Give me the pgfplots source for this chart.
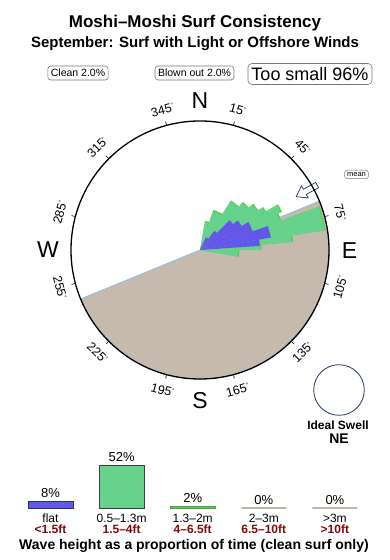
\documentclass[border=0pt]{standalone}
\usepackage{pgfplots}
\pgfplotsset{compat=1.18}
\usepackage{fontspec}
\setmainfont{Liberation Sans}
\newcommand{\fs}[1]{\fontsize{#1}{#1}\selectfont}
\newcommand{\dg}{{\fs{6}\raisebox{4pt}{\textdegree}}}
\definecolor{purp}{RGB}{100,85,235}
\definecolor{grn}{RGB}{102,210,140}
\definecolor{brgrn}{RGB}{90,205,80}
\definecolor{landc}{RGB}{197,186,173}
\definecolor{coast}{RGB}{150,190,230}
\definecolor{dred}{RGB}{130,10,10}
\definecolor{graya}{RGB}{185,180,165}
\definecolor{grayb}{RGB}{200,178,172}
\definecolor{boxg}{RGB}{120,120,120}
\definecolor{navyo}{RGB}{35,55,95}
% wedge: math angle 1, math angle 2, radius (px), colour
\newcommand{\wdg}[4]{\addplot[fill=#4, draw=none, data cs=polar] coordinates {(0,0) (#1,#3) (#2,#3)} -- cycle;}
\newcommand{\tk}[1]{\draw[line width=0.6pt] (axis cs:0,0) ++(#1:129pt) -- ++(#1:4pt);}
\begin{document}
\begin{tikzpicture}
\useasboundingbox (0,0) rectangle (390pt,560pt);
\begin{axis}[at={(0pt,0pt)}, anchor=south west, scale only axis,
  width=390pt, height=560pt, xmin=-200, xmax=190, ymin=-310, ymax=250,
  hide axis, clip=false]
% land (half disc, coast at bearing 67.7 / 247.7)
\addplot[fill=landc, draw=coast, line width=0.8pt, data cs=polar] coordinates {
(0,0) (22.3,129) (15,129) (10,129) (5,129) (0,129) (-5,129) (-10,129) (-15,129)
(-20,129) (-25,129) (-30,129) (-35,129) (-40,129) (-45,129) (-50,129) (-55,129)
(-60,129) (-65,129) (-70,129) (-75,129) (-80,129) (-85,129) (-90,129) (-95,129)
(-100,129) (-105,129) (-110,129) (-115,129) (-120,129) (-125,129) (-130,129)
(-135,129) (-140,129) (-145,129) (-150,129) (-155,129) (-157.7,129)} -- cycle;
% 1.3-2m rim
\wdg{80}{71.5}{29.5}{brgrn}
\wdg{71.5}{58}{42.5}{brgrn}
\wdg{58}{48.2}{58.5}{brgrn}
\wdg{48.2}{41}{64.5}{brgrn}
\wdg{41}{34.1}{70.5}{brgrn}
\wdg{34.1}{30.3}{76.5}{brgrn}
\wdg{30.3}{25}{90.5}{brgrn}
\wdg{25}{20}{86.5}{brgrn}
\wdg{20}{9}{127.5}{brgrn}
\wdg{9}{5}{93.5}{brgrn}
\wdg{5}{0}{61.5}{brgrn}
\wdg{0}{-10}{39.5}{brgrn}
% 0.5-1.3m
\wdg{80}{71.5}{28}{grn}
\wdg{71.5}{58}{41}{grn}
\wdg{58}{48.2}{57}{grn}
\wdg{48.2}{41}{63}{grn}
\wdg{41}{34.1}{69}{grn}
\wdg{34.1}{30.3}{75}{grn}
\wdg{30.3}{25}{89}{grn}
\wdg{25}{20}{85}{grn}
\wdg{20}{9}{126.5}{grn}
\wdg{9}{5}{92}{grn}
\wdg{5}{0}{60}{grn}
\wdg{0}{-10}{38}{grn}
% flat
\wdg{65}{53}{14}{purp}
\wdg{53}{45}{24}{purp}
\wdg{45}{38}{42}{purp}
\wdg{38}{30}{48}{purp}
\wdg{30}{19.4}{56}{purp}
\wdg{19.4}{10}{72}{purp}
\wdg{10}{4}{60}{purp}
% mean arrow (bearing 61)
\addplot[fill=white, draw=navyo, line width=0.7pt, data cs=polar] coordinates {
(29,110) (32.3,120) (30.4,120) (30.3,134) (27.7,134) (27.6,120) (25.7,120)} -- cycle;
% compass circle and ticks
\draw[line width=1.3pt] (axis cs:0,0) circle[radius=129pt];
\tk{75}\tk{45}\tk{15}\tk{-15}\tk{-45}\tk{-75}\tk{-105}\tk{-135}\tk{-165}\tk{165}\tk{135}\tk{105}
% degree labels
\path (axis cs:0,0) ++(75:145pt) node[rotate=-15]{\fs{12.5}15\dg};
\path (axis cs:0,0) ++(45:145pt) node[rotate=-45]{\fs{12.5}45\dg};
\path (axis cs:0,0) ++(15:145pt) node[rotate=-75]{\fs{12.5}75\dg};
\path (axis cs:0,0) ++(-15:145pt) node[rotate=75]{\fs{12.5}105\dg};
\path (axis cs:0,0) ++(-45:145pt) node[rotate=45]{\fs{12.5}135\dg};
\path (axis cs:0,0) ++(-75:145pt) node[rotate=15]{\fs{12.5}165\dg};
\path (axis cs:0,0) ++(-105:145pt) node[rotate=-15]{\fs{12.5}195\dg};
\path (axis cs:0,0) ++(-135:145pt) node[rotate=-45]{\fs{12.5}225\dg};
\path (axis cs:0,0) ++(-165:145pt) node[rotate=-75]{\fs{12.5}255\dg};
\path (axis cs:0,0) ++(165:145pt) node[rotate=75]{\fs{12.5}285\dg};
\path (axis cs:0,0) ++(135:145pt) node[rotate=45]{\fs{12.5}315\dg};
\path (axis cs:0,0) ++(105:145pt) node[rotate=15]{\fs{12.5}345\dg};
% cardinal letters
\node at (axis cs:0,149) {\fs{23}N};
\node at (axis cs:149.5,-1) {\fs{23}E};
\node at (axis cs:0,-151) {\fs{23}S};
\node at (axis cs:-152,0) {\fs{23}W};
% titles
\node[anchor=base] at (axis cs:-5,222) {\fs{17}\bfseries Moshi--Moshi Surf Consistency};
\node[anchor=base] at (axis cs:-5,202.3) {\fs{15}\bfseries September: Surf with Light or Offshore Winds};
% boxes
\node[draw=boxg, rounded corners=3pt, inner xsep=3pt, inner ysep=0pt, minimum height=14pt, line width=0.6pt] at (axis cs:-122,177) {\fs{10.5}Clean 2.0\%};
\node[draw=boxg, rounded corners=3pt, inner xsep=3pt, inner ysep=0pt, minimum height=14pt, line width=0.6pt] at (axis cs:-5.5,177) {\fs{10.5}Blown out 2.0\%};
\node[draw=boxg, rounded corners=4pt, inner xsep=3.5pt, inner ysep=0pt, minimum height=21pt, line width=0.6pt] at (axis cs:110,176) {\fs{18}Too small 96\%};
\node[draw=boxg, rounded corners=2.5pt, inner xsep=2.5pt, inner ysep=0pt, minimum height=8.5pt, line width=0.5pt] at (axis cs:156.5,75.5) {\fs{7.5}mean};
% ideal swell
\draw[navyo, line width=0.8pt] (axis cs:139,-140) circle[radius=25.3pt];
\node[anchor=base] at (axis cs:138,-180) {\fs{12}\bfseries Ideal Swell};
\node[anchor=base] at (axis cs:139,-193.3) {\fs{14}\bfseries NE};
% caption
\node[anchor=base] at (axis cs:-6,-300) {\fs{14}\bfseries Wave height as a proportion of time (clean surf only)};
\end{axis}
% legend bars
\begin{axis}[at={(14.95pt,52pt)}, anchor=south west, scale only axis,
  width=355.5pt, height=48.6pt, xmin=-0.5, xmax=4.5, ymin=0, ymax=60,
  hide axis, clip=false]
\addplot[ybar, bar width=45pt, bar shift=0pt, fill=purp, draw=navyo, line width=0.8pt] coordinates {(0,8)};
\addplot[ybar, bar width=45pt, bar shift=0pt, fill=grn, draw=black!75, line width=0.8pt] coordinates {(1,52)};
\addplot[ybar, bar width=45pt, bar shift=0pt, fill=brgrn, draw=brgrn!80!black, line width=0.6pt] coordinates {(2,2)};
\addplot[ybar, bar width=45pt, bar shift=0pt, fill=graya, draw=graya, line width=1.2pt] coordinates {(3,0)};
\addplot[ybar, bar width=45pt, bar shift=0pt, fill=grayb, draw=grayb, line width=1.2pt] coordinates {(4,0)};
\node[anchor=base, yshift=4pt] at (axis cs:0,8) {\fs{13}8\%};
\node[anchor=base, yshift=4pt] at (axis cs:1,52) {\fs{13}52\%};
\node[anchor=base, yshift=4pt] at (axis cs:2,2) {\fs{13}2\%};
\node[anchor=base, yshift=4pt] at (axis cs:3,0) {\fs{13}0\%};
\node[anchor=base, yshift=4pt] at (axis cs:4,0) {\fs{13}0\%};
\node[anchor=base, yshift=-14pt] at (axis cs:0,0) {\fs{12}flat};
\node[anchor=base, yshift=-14pt] at (axis cs:1,0) {\fs{12}0.5--1.3m};
\node[anchor=base, yshift=-14pt] at (axis cs:2,0) {\fs{12}1.3--2m};
\node[anchor=base, yshift=-14pt] at (axis cs:3,0) {\fs{12}2--3m};
\node[anchor=base, yshift=-14pt] at (axis cs:4,0) {\fs{12}>3m};
\node[anchor=base, yshift=-25pt, text=dred] at (axis cs:0,0) {\fs{12}\bfseries <1.5ft};
\node[anchor=base, yshift=-25pt, text=dred] at (axis cs:1,0) {\fs{12}\bfseries 1.5--4ft};
\node[anchor=base, yshift=-25pt, text=dred] at (axis cs:2,0) {\fs{12}\bfseries 4--6.5ft};
\node[anchor=base, yshift=-25pt, text=dred] at (axis cs:3,0) {\fs{12}\bfseries 6.5--10ft};
\node[anchor=base, yshift=-25pt, text=dred] at (axis cs:4,0) {\fs{12}\bfseries >10ft};
\end{axis}
\end{tikzpicture}
\end{document}
